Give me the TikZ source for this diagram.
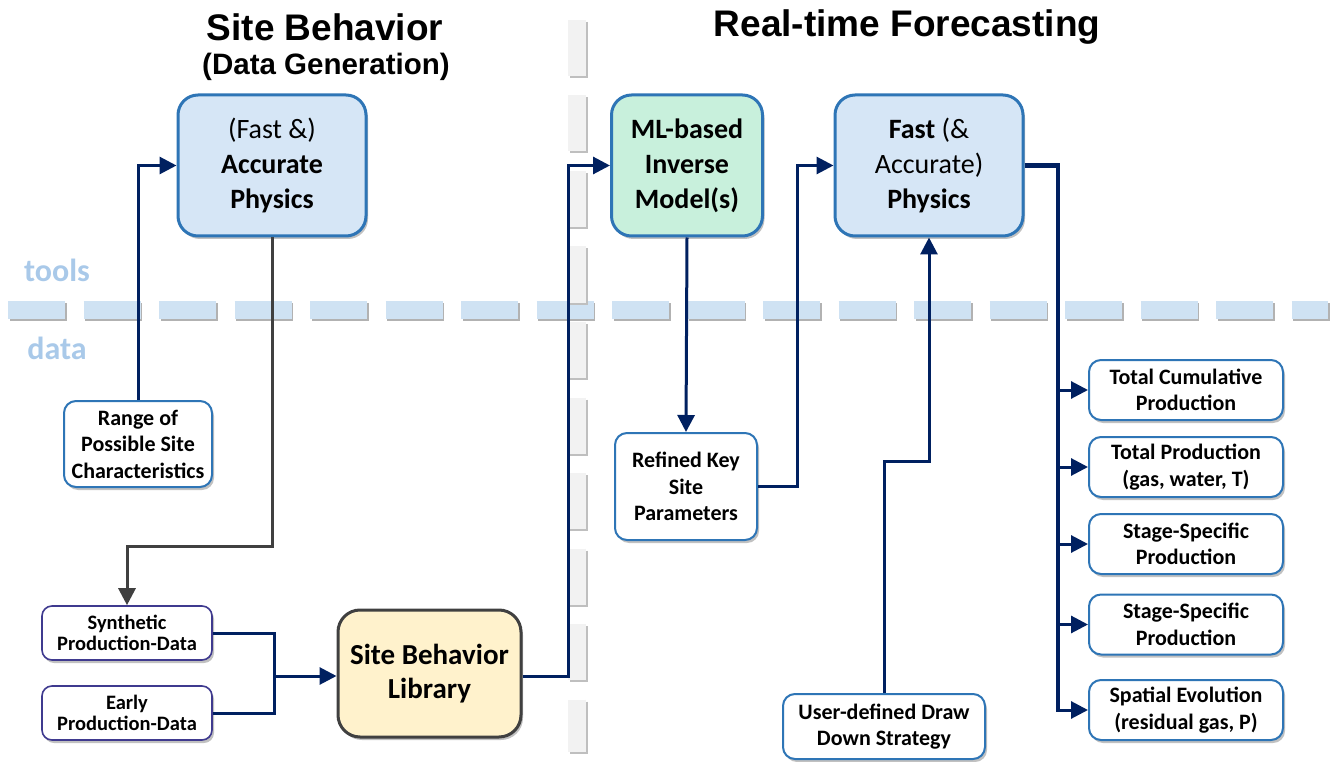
\documentclass[tikz,border=0pt]{standalone}
\usepackage{fontspec}
\setmainfont{Carlito}
\newfontfamily\headfont{Liberation Sans}
\usetikzlibrary{arrows.meta,shadows}

\definecolor{navy}{HTML}{002060}
\definecolor{boxblue}{HTML}{2E75B6}
\definecolor{physfill}{HTML}{D6E6F6}
\definecolor{mlfill}{HTML}{C8F0DC}
\definecolor{libfill}{HTML}{FFF2CC}
\definecolor{boxgray}{HTML}{404040}
\definecolor{splitblue}{HTML}{CFE2F3}
\definecolor{splitgray}{HTML}{F2F2F2}
\definecolor{labelblue}{HTML}{A9C9E9}
\definecolor{datapurple}{HTML}{3F3A8F}

\tikzset{
  head/.style={font=\headfont\bfseries\fontsize{37}{40}\selectfont},
  subhead/.style={font=\headfont\bfseries\fontsize{29.5}{33}\selectfont},
  sidelabel/.style={text=labelblue,font=\bfseries\fontsize{32}{36}\selectfont},
  shade/.style={drop shadow={shadow xshift=2pt,shadow yshift=-3pt,opacity=.35,fill=black!70}},
  bigbox/.style={shade,draw=boxblue,line width=3pt,rounded corners=20pt,fill=physfill,
    minimum width=188pt,minimum height=141pt,align=center,font=\fontsize{28}{35}\selectfont},
  smallbox/.style={shade,draw=boxblue,line width=2pt,rounded corners=12pt,fill=white,
    align=center,font=\bfseries\fontsize{22}{26.5}\selectfont},
  databox/.style={shade,draw=datapurple,line width=1.6pt,rounded corners=10pt,fill=white,
    minimum width=170pt,minimum height=54pt,align=center,font=\bfseries\fontsize{20.5}{21.5}\selectfont},
  outbox/.style={smallbox,minimum width=194pt,minimum height=60pt},
  flow/.style={navy,line width=3pt,-{Triangle[length=17pt,width=17pt]}},
}

\begin{document}
\begin{tikzpicture}[x=1pt,y=-1pt]
\useasboundingbox (0,0) rectangle (1331,762);

% dashed separators
\draw[black!30,line width=18pt,dash pattern=on 57pt off 18.5pt] (9.5,312) -- (1329.5,312);
\draw[splitblue,line width=18pt,dash pattern=on 57pt off 18.5pt] (8,310) -- (1328,310);
\draw[black!25,line width=18pt,dash pattern=on 56pt off 19.5pt] (578.5,22) -- (578.5,754);
\draw[splitgray,line width=18pt,dash pattern=on 56pt off 19.5pt] (577,20) -- (577,752);

\node[sidelabel] (tools) at (57,270) {tools};
\node[sidelabel] (data) at (57,348) {data};

% headings
\node[head] (h1) at (325,27) {Site Behavior};
\node[subhead] (h2) at (326,67) {(Data Generation)};
\node[head] (h3) at (907,27) {Real-time Forecasting};

% tools
\node[bigbox] (acc) at (272,165.5) {(Fast \&)\\\textbf{Accurate}\\\textbf{Physics}};
\node[bigbox,fill=mlfill,minimum width=151pt,font=\bfseries\fontsize{28}{35}\selectfont] (ml) at (687,165.5) {ML-based\\Inverse\\Model(s)};
\node[bigbox] (fast) at (929,165.5) {\textbf{Fast} (\&\\Accurate)\\\textbf{Physics}};

% data
\node[smallbox,minimum width=148pt,minimum height=86pt] (range) at (138,444) {Range of\\Possible Site\\Characteristics};
\node[databox] (synth) at (127,633) {Synthetic\\Production-Data};
\node[databox] (early) at (127,713) {Early\\Production-Data};
\node[shade,draw=boxgray,line width=3pt,rounded corners=22pt,fill=libfill,minimum width=183pt,
  minimum height=127pt,align=center,font=\bfseries\fontsize{29}{34}\selectfont] (lib) at (429.5,673.5) {Site Behavior\\Library};
\node[smallbox,minimum width=142pt,minimum height=107pt] (ref) at (686,486.5) {Refined Key\\Site\\Parameters};
\node[smallbox,minimum width=202pt,minimum height=65pt] (user) at (884,726.5) {User-defined Draw\\Down Strategy};

\node[outbox] (o1) at (1186,390) {Total Cumulative\\Production};
\node[outbox] (o2) at (1186,467) {Total Production\\(gas, water, T)};
\node[outbox] (o3) at (1186,544) {Stage-Specific\\Production};
\node[outbox] (o4) at (1186,624.5) {Stage-Specific\\Production};
\node[outbox] (o5) at (1186,710) {Spatial Evolution\\(residual gas, P)};

% connectors
\draw[flow] (range.north) |- (acc.west);
\draw[flow,boxgray] (acc.south) -- ++(0,309) -| (synth.north);
\coordinate (join) at (274,676);
\draw[navy,line width=3pt] (synth.east) -| (join);
\draw[navy,line width=3pt] (early.east) -| (join);
\draw[flow] (join) -- (lib.west |- join);
\draw[flow] (lib.east |- join) -- ++(46,0) |- (ml.west);
\draw[flow] (ml.south) -- (ref.north);
\draw[flow] (ref.east) -- ++(39,0) |- (fast.west);
\draw[flow] (user.north) -- ++(0,-232) -| (fast.south);
\coordinate (bus) at (1058,711.5);
\draw[navy,line width=4.5pt] (fast.east) -| (bus);
\foreach \o in {o1,o2,o3,o4,o5}
  \draw[flow] (bus |- \o.west) -- (\o.west);
\end{tikzpicture}
\end{document}
